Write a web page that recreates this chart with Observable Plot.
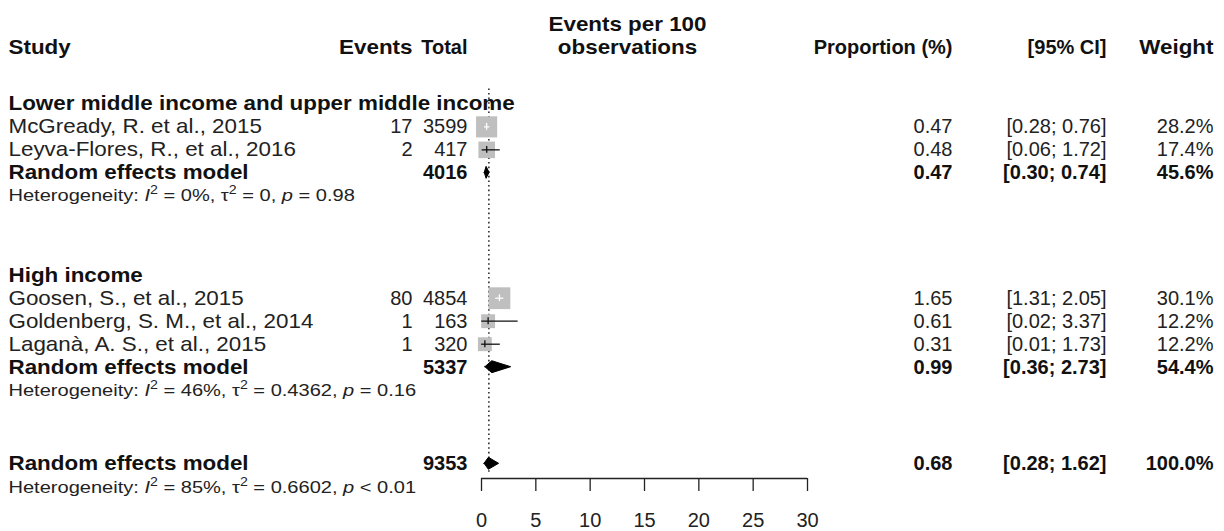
<!DOCTYPE html>
<html><head><meta charset="utf-8">
<script src="https://cdn.jsdelivr.net/npm/d3@7"></script>
<script src="https://cdn.jsdelivr.net/npm/@observablehq/plot@0.6"></script>
<style>
body{margin:0;background:#fff;}
#chart{width:1224px;height:531px;overflow:hidden;}
</style>
</head><body><div id="chart"></div>
<script>
// ---------------- data ----------------
const studyNames = ["McGready, R. et al., 2015", "Leyva-Flores, R., et al., 2016", "Goosen, S., et al., 2015", "Goldenberg, S. M., et al., 2014", "Laganà, A. S., et al., 2015"];
const studyGroup = [0, 0, 1, 1, 1];
const studyEvents = [17, 2, 80, 1, 1];
const studyTotal = [3599, 417, 4854, 163, 320];
const studyProp = [0.47, 0.48, 1.65, 0.61, 0.31];
const studyLower = [0.28, 0.06, 1.31, 0.02, 0.01];
const studyUpper = [0.76, 1.72, 2.05, 3.37, 1.73];
const studyWeight = [28.2, 17.4, 30.1, 12.2, 12.2];

const groupNames = ["Lower middle income and upper middle income", "High income"];
const groupTotal = [4016, 5337];
const groupProp = [0.47, 0.99];
const groupLower = [0.30, 0.36];
const groupUpper = [0.74, 2.73];
const groupWeight = [45.6, 54.4];
const groupI2 = ["0%", "46%"];
const groupTau2 = ["0", "0.4362"];
const groupP = ["= 0.98", "= 0.16"];

const overallTotal = 9353;
const overallProp = 0.68;
const overallLower = 0.28;
const overallUpper = 1.62;
const overallWeight = 100.0;
const overallI2 = "85%";
const overallTau2 = "0.6602";
const overallP = "< 0.01";

const headerCols = ["Study", "Events", "Total", "observations", "Proportion (%)", "[95% CI]", "Weight"];
const headerTop = "Events per 100";
const modelLabel = "Random effects model";
const tickValues = [0, 5, 10, 15, 20, 25, 30];

// ---------------- layout ----------------
const W = 1224, H = 531;
const FONT = "'Liberation Sans', Arial, Helvetica, sans-serif";
const PX_ZERO = 481, PX_PER_UNIT = 10.867;
const ROW_PX = 23, HEADER_PX = 47, AXIS_PX = 478;
const STRETCH = {txt: 1.12, num: 1.0, het: 1.18};
const FS = 20, FS_HET = 17;
const COL = {study: 8, events: 412, total: 467, mid: 627, prop: 952, ci: 1106, weight: 1213};

const xDomain = [-PX_ZERO / PX_PER_UNIT, (W - PX_ZERO) / PX_PER_UNIT];
const yDomain = [-HEADER_PX / ROW_PX, (AXIS_PX - HEADER_PX) / ROW_PX];

const f2 = d3.format(".2f");
const fw = d => d3.format(".1f")(d) + "%";
const ci = (l, u) => `[${f2(l)}; ${f2(u)}]`;

const rows = [];
let r = 2.45;
groupNames.forEach((g, gi) => {
  rows.push({kind: "group", y: r, label: g}); r += 1;
  studyNames.forEach((s, i) => {
    if (studyGroup[i] !== gi) return;
    rows.push({kind: "study", y: r, label: s, events: String(studyEvents[i]), total: String(studyTotal[i]),
      est: studyProp[i], lo: studyLower[i], hi: studyUpper[i], w: studyWeight[i],
      prop: f2(studyProp[i]), ci: ci(studyLower[i], studyUpper[i]), weight: fw(studyWeight[i])});
    r += 1;
  });
  rows.push({kind: "rem", y: r, label: modelLabel, total: String(groupTotal[gi]), est: groupProp[gi], lo: groupLower[gi], hi: groupUpper[gi],
    prop: f2(groupProp[gi]), ci: ci(groupLower[gi], groupUpper[gi]), weight: fw(groupWeight[gi])});
  r += 1;
  rows.push({kind: "het", y: r, i2: groupI2[gi], tau2: groupTau2[gi], p: groupP[gi]});
  r += (gi < groupNames.length - 1) ? 3.45 : 3.2;
});
rows.push({kind: "rem", y: r, label: modelLabel, total: String(overallTotal), est: overallProp, lo: overallLower, hi: overallUpper,
  prop: f2(overallProp), ci: ci(overallLower, overallUpper), weight: fw(overallWeight)});
rows.push({kind: "het", y: r + 1.05, i2: overallI2, tau2: overallTau2, p: overallP});

const studyRows = rows.filter(d => d.kind === "study");
const remRows = rows.filter(d => d.kind === "rem");
const hetRows = rows.filter(d => d.kind === "het");
const groupRows = rows.filter(d => d.kind === "group");

// square size ~ sqrt(weight) like meta; CI line turns white when it fits inside the square
const R_MAX = 12.3;
const rScale = d3.scaleSqrt().domain([0, d3.max(studyWeight)]).range([0, R_MAX]);
studyRows.forEach(d => {
  const side = Math.sqrt(Math.PI) * rScale(d.w);
  d.inside = (d.hi - d.lo) * PX_PER_UNIT < side;
});

const diamondH = 0.26;
const diamondPts = remRows.flatMap((d, k) => [
  {id: k, x: d.lo, y1: d.y, y2: d.y},
  {id: k, x: d.est, y1: d.y - diamondH, y2: d.y + diamondH},
  {id: k, x: d.hi, y1: d.y, y2: d.y}
]);

const firstRow = groupRows[0].y;
const lastRem = remRows[remRows.length - 1].y;
const headerRow = 0;

const txt = (data, opts, cls = "txt") => Plot.text(data, {frameAnchor: "left", fontSize: FS, fill: "#111", className: cls, ...opts});
const hetText = d => `Heterogeneity: I2 = ${d.i2}, τ2 = ${d.tau2}, p ${d.p}`;

const plot = Plot.plot({
  width: W, height: H,
  marginLeft: 0, marginRight: 0, marginTop: 0, marginBottom: H - AXIS_PX,
  style: {fontFamily: FONT, background: "#fff", color: "#111"},
  x: {domain: xDomain, range: [0, W]},
  y: {domain: yDomain, reverse: true, axis: null},
  r: {domain: [0, d3.max(studyWeight)], range: [0, R_MAX]},
  marks: [
    // header
    txt([headerTop], {y: headerRow - 1, dx: COL.mid, textAnchor: "middle", fontWeight: "bold", text: d => d}),
    txt([headerCols[0]], {y: headerRow, dx: COL.study, textAnchor: "start", fontWeight: "bold", text: d => d}),
    txt([headerCols[1]], {y: headerRow, dx: COL.events, textAnchor: "end", fontWeight: "bold", text: d => d}),
    txt([headerCols[2]], {y: headerRow, dx: COL.total, textAnchor: "end", fontWeight: "bold", text: d => d}, "num"),
    txt([headerCols[3]], {y: headerRow, dx: COL.mid, textAnchor: "middle", fontWeight: "bold", text: d => d}),
    txt([headerCols[4]], {y: headerRow, dx: COL.prop, textAnchor: "end", fontWeight: "bold", text: d => d}, "num"),
    txt([headerCols[5]], {y: headerRow, dx: COL.ci, textAnchor: "end", fontWeight: "bold", text: d => d}, "num"),
    txt([headerCols[6]], {y: headerRow, dx: COL.weight, textAnchor: "end", fontWeight: "bold", text: d => d}),
    // group labels
    txt(groupRows, {y: "y", dx: COL.study, textAnchor: "start", fontWeight: "bold", text: "label"}),
    // study rows
    txt(studyRows, {y: "y", dx: COL.study, textAnchor: "start", text: "label", fill: "#222"}),
    txt(studyRows, {y: "y", dx: COL.events, textAnchor: "end", text: "events", fill: "#222"}, "num"),
    txt(studyRows, {y: "y", dx: COL.total, textAnchor: "end", text: "total", fill: "#222"}, "num"),
    txt(studyRows, {y: "y", dx: COL.prop, textAnchor: "end", text: "prop", fill: "#222"}, "num"),
    txt(studyRows, {y: "y", dx: COL.ci, textAnchor: "end", text: "ci", fill: "#222"}, "num"),
    txt(studyRows, {y: "y", dx: COL.weight, textAnchor: "end", text: "weight", fill: "#222"}, "num"),
    // model rows
    txt(remRows, {y: "y", dx: COL.study, textAnchor: "start", text: "label", fontWeight: "bold"}),
    txt(remRows, {y: "y", dx: COL.total, textAnchor: "end", text: "total", fontWeight: "bold"}, "num"),
    txt(remRows, {y: "y", dx: COL.prop, textAnchor: "end", text: "prop", fontWeight: "bold"}, "num"),
    txt(remRows, {y: "y", dx: COL.ci, textAnchor: "end", text: "ci", fontWeight: "bold"}, "num"),
    txt(remRows, {y: "y", dx: COL.weight, textAnchor: "end", text: "weight", fontWeight: "bold"}, "num"),
    // heterogeneity
    txt(hetRows, {y: "y", dx: COL.study, textAnchor: "start", text: hetText, fontSize: FS_HET, fill: "#222"}, "het"),
    // reference dotted line at the overall estimate
    Plot.ruleX([overallProp], {x: d => d, y1: firstRow - 0.65, y2: lastRem + 0.4, stroke: "#111", strokeWidth: 1.4, strokeDasharray: "1.6,3"}),
    // squares
    Plot.dot(studyRows, {x: "est", y: "y", r: "w", symbol: "square", fill: "#bfbfbf", stroke: null}),
    // CI lines and estimate ticks
    Plot.ruleY(studyRows, {y: "y", x1: "lo", x2: "hi", stroke: d => d.inside ? "#fff" : "#111", strokeWidth: 1.3}),
    Plot.ruleX(studyRows, {x: "est", y1: d => d.y - 0.15, y2: d => d.y + 0.15, stroke: d => d.inside ? "#fff" : "#111", strokeWidth: 1.3}),
    // diamonds
    Plot.areaY(diamondPts, {x: "x", y1: "y1", y2: "y2", z: "id", fill: "#000", stroke: "#000", strokeWidth: 1}),
    // axis
    Plot.ruleY([yDomain[1]], {y: d => d, x1: tickValues[0], x2: tickValues[tickValues.length - 1], stroke: "#222", strokeWidth: 1.3}),
    Plot.axisX({ticks: tickValues, tickSize: 13, tickPadding: 21, fontSize: FS, label: null, tickFormat: d => String(d), stroke: "#222", strokeWidth: 1.3, fill: "#222", className: "num"})
  ]
});

document.getElementById("chart").appendChild(plot);
const svg = plot.tagName.toLowerCase() === "svg" ? plot : plot.querySelector("svg");

// heterogeneity line: italics + superscripts as real text
svg.querySelectorAll("g.het text").forEach(t => {
  const d = hetRows[t.__data__];
  if (!d) return;
  t.textContent = "";
  const add = (s, attrs = {}) => {
    const ts = document.createElementNS("http://www.w3.org/2000/svg", "tspan");
    for (const [k, v] of Object.entries(attrs)) ts.setAttribute(k, v);
    ts.textContent = s;
    t.appendChild(ts);
  };
  add("Heterogeneity: ");
  add("I", {"font-style": "italic"});
  add("2", {dy: "-7", "font-size": "12"});
  add(` = ${d.i2}, τ`, {dy: "7"});
  add("2", {dy: "-7", "font-size": "12"});
  add(` = ${d.tau2}, `, {dy: "7"});
  add("p", {"font-style": "italic"});
  add(` ${d.p}`);
});

// horizontal stretch of lettering, anchored at each text's own position
svg.querySelectorAll("text").forEach(t => {
  const g = t.closest("g.het, g.num, g.txt");
  const key = g ? (g.classList.contains("het") ? "het" : g.classList.contains("num") ? "num" : "txt") : "num";
  const s = STRETCH[key];
  if (s === 1) return;
  const tr = t.getAttribute("transform");
  if (tr) t.setAttribute("transform", tr + ` scale(${s},1)`);
  else {
    const x = +t.getAttribute("x") || 0, y = +t.getAttribute("y") || 0;
    t.removeAttribute("x"); t.removeAttribute("y");
    t.setAttribute("transform", `translate(${x},${y}) scale(${s},1)`);
  }
});
</script>
</body></html>
